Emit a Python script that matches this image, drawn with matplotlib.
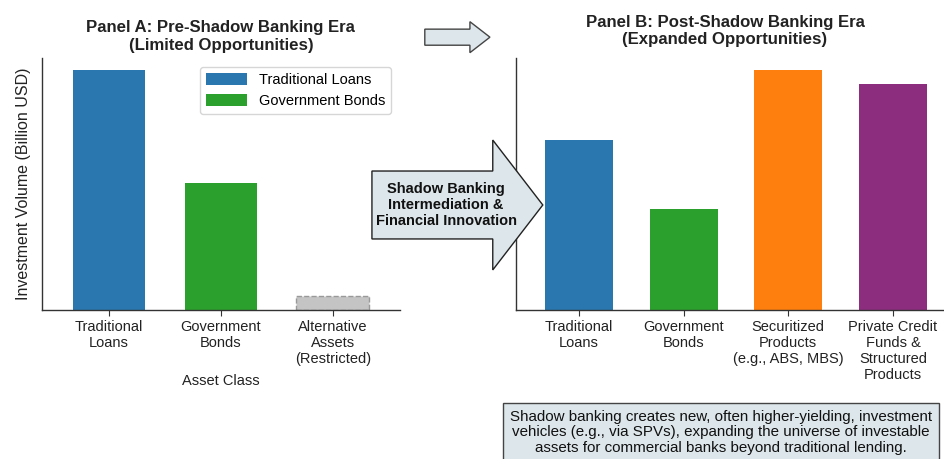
import matplotlib.pyplot as plt
from matplotlib.patches import FancyArrow

plt.rcParams['font.family'] = ['Liberation Sans', 'DejaVu Sans']

# Panel A (pre-shadow banking)
a_labels = ['Traditional\nLoans', 'Government\nBonds', 'Alternative\nAssets\n(Restricted)']
a_values = [100, 53, 6]
# Panel B (post-shadow banking)
b_labels = ['Traditional\nLoans', 'Government\nBonds', 'Securitized\nProducts\n(e.g., ABS, MBS)',
            'Private Credit\nFunds &\nStructured\nProducts']
b_values = [71, 42, 100, 94]

blue = '#2a77b0'
green = '#2ca02c'
orange = '#ff7f0e'
purple = '#8c2d7e'
arrow_fc = '#dde6ea'

fig = plt.figure(figsize=(9.44, 4.59), dpi=100)
axA = fig.add_axes([0.0445, 0.3246, 0.379, 0.549])
axB = fig.add_axes([0.5466, 0.3246, 0.466, 0.549])

def style(ax):
    for s in ['top', 'right']:
        ax.spines[s].set_visible(False)
    for s in ['left', 'bottom']:
        ax.spines[s].set_color('#333333')
        ax.spines[s].set_linewidth(1.0)
    ax.set_yticks([])
    ax.tick_params(axis='x', length=4, color='#333333', labelsize=10.5, labelcolor='#222222', pad=3)
    ax.set_ylim(0, 105)

xa = range(len(a_values))
bars = axA.bar(xa, a_values, width=0.65, color=[blue, green, '#c4c4c4'])
bars[2].set_edgecolor('#999999')
bars[2].set_linestyle('--')
bars[2].set_linewidth(1.0)
axA.set_xticks(list(xa))
axA.set_xticklabels(a_labels)
axA.set_xlim(-0.6, 2.6)
style(axA)
axA.set_ylabel('Investment Volume (Billion USD)', fontsize=11.5, color='#222222', labelpad=8)
axA.set_xlabel('Asset Class', fontsize=10.5, color='#222222', labelpad=6)
axA.set_title('Panel A: Pre-Shadow Banking Era\n(Limited Opportunities)', fontsize=12.1,
              fontweight='bold', color='#222222', pad=6)
axA.legend([bars[0], bars[1]], ['Traditional Loans', 'Government Bonds'], loc='upper right',
           fontsize=10.5, frameon=True, edgecolor='#cccccc', fancybox=True,
           handlelength=2.8, handleheight=0.9, borderaxespad=0.6)

xb = range(len(b_values))
axB.bar(xb, b_values, width=0.65, color=[blue, green, orange, purple])
axB.set_xticks(list(xb))
axB.set_xticklabels(b_labels)
axB.set_xlim(-0.6, 3.6)
style(axB)
fig.text(0.768, 0.968, 'Panel B: Post-Shadow Banking Era\n(Expanded Opportunities)', fontsize=12.1,
         fontweight='bold', color='#222222', ha='center', va='top')

# big arrow between panels
big = FancyArrow(0.394, 0.5534, 0.181, 0, width=0.148, head_width=0.283, head_length=0.053,
                 length_includes_head=True, transform=fig.transFigure, fc=arrow_fc,
                 ec='#222222', lw=1.0, zorder=5)
fig.patches.append(big)
fig.text(0.4725, 0.5534, 'Shadow Banking\nIntermediation &\nFinancial Innovation', fontsize=10.5,
         fontweight='bold', ha='center', va='center', color='#111111', zorder=6, linespacing=1.2)

# small arrow at top
small = FancyArrow(0.450, 0.919, 0.069, 0, width=0.035, head_width=0.0675, head_length=0.0212,
                   length_includes_head=True, transform=fig.transFigure, fc=arrow_fc,
                   ec='#444444', lw=1.0, zorder=5)
fig.patches.append(small)

fig.text(0.7635, 0.058, 'Shadow banking creates new, often higher-yielding, investment\n'
         'vehicles (e.g., via SPVs), expanding the universe of investable\n'
         'assets for commercial banks beyond traditional lending.',
         fontsize=10.9, ha='center', va='center', color='#111111', linespacing=1.15,
         bbox=dict(boxstyle='square,pad=0.45', fc=arrow_fc, ec='#444444', lw=1.0))

fig.savefig('out.png', dpi=100)
